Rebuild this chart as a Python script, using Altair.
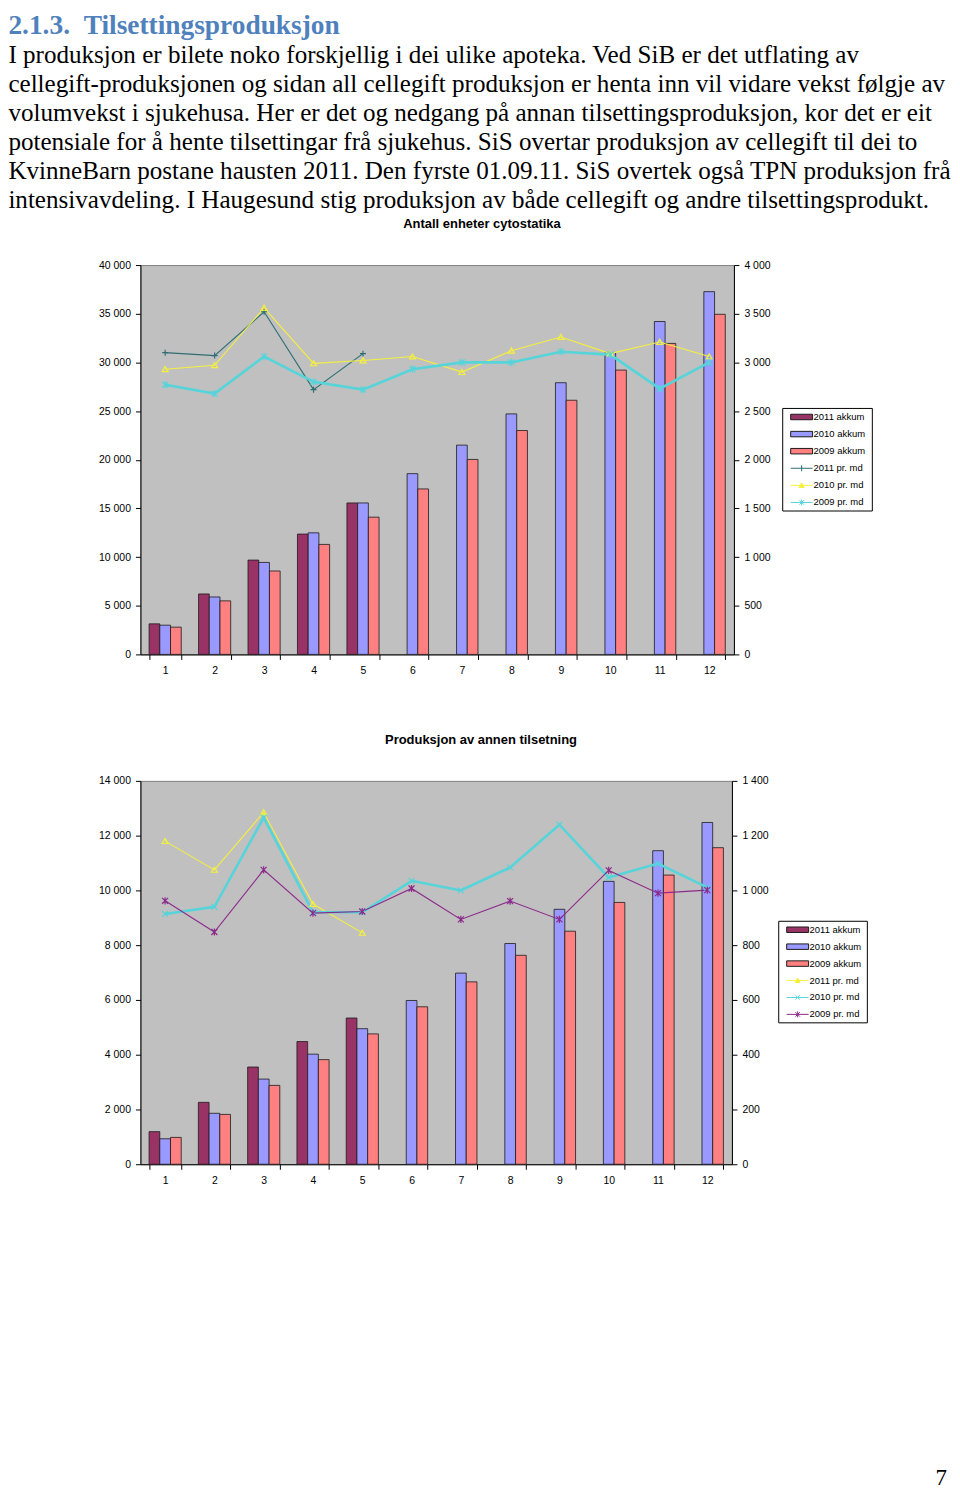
import altair as alt
import pandas as pd

# ---------------- text ----------------
heading = "2.1.3.\u00a0\u00a0Tilsettingsproduksjon"
paragraph = [
    "I produksjon er bilete noko forskjellig i dei ulike apoteka. Ved SiB er det utflating av",
    "cellegift-produksjonen og sidan all cellegift produksjon er henta inn vil vidare vekst følgje av",
    "volumvekst i sjukehusa. Her er det og nedgang på annan tilsettingsproduksjon, kor det er eit",
    "potensiale for å hente tilsettingar frå sjukehus. SiS overtar produksjon av cellegift til dei to",
    "KvinneBarn postane hausten 2011. Den fyrste 01.09.11. SiS overtek også TPN produksjon frå",
    "intensivavdeling. I Haugesund stig produksjon av både cellegift og andre tilsettingsprodukt.",
]
page_number = "7"

months = list(range(1, 13))
bar_series = ["2011 akkum", "2010 akkum", "2009 akkum"]
line_series = ["2011 pr. md", "2010 pr. md", "2009 pr. md"]

# ---------------- chart 1: Antall enheter cytostatika ----------------
c1_title = "Antall enheter cytostatika"
c1_akkum_2011 = [3140, 6210, 9690, 12360, 15560]
c1_akkum_2010 = [3000, 5900, 9450, 12490, 15560, 18570, 21500, 24710, 27910, 31020, 34200, 37270]
c1_akkum_2009 = [2800, 5500, 8570, 11300, 14100, 17000, 20030, 23000, 26110, 29210, 31950, 34940]
c1_md_2011 = [3100, 3070, 3520, 2720, 3090]
c1_md_2010 = [2930, 2970, 3560, 2990, 3020, 3060, 2900, 3120, 3260, 3090, 3210, 3060]
c1_md_2009 = [2770, 2680, 3060, 2800, 2720, 2930, 3000, 3000, 3110, 3080, 2730, 3000]
c1_left_ticks = [0, 5000, 10000, 15000, 20000, 25000, 30000, 35000, 40000]
c1_right_ticks = [0, 500, 1000, 1500, 2000, 2500, 3000, 3500, 4000]

# ---------------- chart 2: Produksjon av annen tilsetning ----------------
c2_title = "Produksjon av annen tilsetning"
c2_akkum_2011 = [1190, 2260, 3550, 4480, 5340]
c2_akkum_2010 = [930, 1860, 3110, 4020, 4950, 5980, 6980, 8060, 9310, 10330, 11450, 12480]
c2_akkum_2009 = [980, 1820, 2880, 3820, 4760, 5750, 6660, 7630, 8510, 9560, 10560, 11560]
c2_md_2011 = [1180, 1075, 1285, 950, 845]
c2_md_2010 = [914, 940, 1266, 920, 920, 1035, 1000, 1084, 1240, 1047, 1098, 1011]
c2_md_2009 = [962, 848, 1075, 917, 923, 1007, 894, 961, 894, 1073, 990, 1001]
c2_left_ticks = [0, 2000, 4000, 6000, 8000, 10000, 12000, 14000]
c2_right_ticks = [0, 200, 400, 600, 800, 1000, 1200, 1400]

# ---------------- styles ----------------
BAR_COLORS = ["#993366", "#9999FF", "#FF8080"]
SANS = "Liberation Sans"
SERIF = "Liberation Serif"

# legend symbol paths (drawn with point size 121 -> unit = 5.5 px)
L_RECT = "M-2,-0.5H2V0.5H-2Z"
L_PLUS = "M-2,0H2M0,-0.55V0.55"
L_TRI = "M-2,0H2M-0.45,0.38L0,-0.45L0.45,0.38Z"
L_STAR = "M-2,0H2M-0.4,-0.4L0.4,0.4M-0.4,0.4L0.4,-0.4M0,-0.55V0.55"
L_X = "M-2,0H2M-0.4,-0.4L0.4,0.4M-0.4,0.4L0.4,-0.4"

# line markers
M_PLUS = "M-1,0H1M0,-1V1"
M_TRI = "M-1,0.8L0,-0.9L1,0.8Z"
M_STAR = "M-1,-1L1,1M-1,1L1,-1M0,-1.2V1.2"
M_X = "M-1,-1L1,1M-1,1L1,-1"


def long_df(series_names, value_lists):
    rows = []
    for name, vals in zip(series_names, value_lists):
        for m, v in zip(months, vals):
            rows.append({"month": m, "series": name, "marker": name, "value": v})
    return pd.DataFrame(rows)


def build_chart(title, bars_vals, lines_vals, left_ticks, right_ticks,
                line_colors, thick_series, marker_paths, legend_paths,
                width, height, legend_box, title_dx, extra=None):
    all_series = bar_series + line_series
    all_colors = BAR_COLORS + line_colors
    bars_df = long_df(bar_series, bars_vals)
    lines_df = long_df(line_series, lines_vals)
    legend_df = pd.DataFrame({"series": all_series})

    color = alt.Color("series:N", scale=alt.Scale(domain=all_series, range=all_colors), legend=None)

    x_axis = alt.Axis(title=None, labelAngle=0, tickBand="extent", domainColor="black",
                      tickColor="black", tickSize=5, labelFont=SANS, labelFontSize=10.5,
                      labelColor="black", labelPadding=6, grid=False)
    lab = "replace(format(datum.value, ','), ',', ' ')"
    left_axis = alt.Axis(title=None, values=left_ticks, labelExpr=lab, domainColor="black",
                         tickColor="black", tickSize=5, labelFont=SANS, labelFontSize=10.5,
                         labelColor="black", labelPadding=5, grid=False)
    right_axis = alt.Axis(title=None, orient="right", values=right_ticks, labelExpr=lab,
                          domainColor="black", tickColor="black", tickSize=5, labelFont=SANS,
                          labelFontSize=10.5, labelColor="black", labelPadding=5, grid=False)

    x = alt.X("month:O", scale=alt.Scale(paddingInner=0.35, paddingOuter=0.175), axis=x_axis)

    bars = alt.Chart(bars_df).mark_bar(stroke="#1a1a1a", strokeWidth=0.8).encode(
        x=x,
        xOffset=alt.XOffset("series:N", scale=alt.Scale(domain=bar_series)),
        y=alt.Y("value:Q", scale=alt.Scale(domain=[left_ticks[0], left_ticks[-1]]), axis=left_axis),
        color=color,
    )
    y_right = alt.Y("value:Q", scale=alt.Scale(domain=[right_ticks[0], right_ticks[-1]]), axis=right_axis)
    lines = alt.Chart(lines_df).mark_line().encode(
        x=alt.X("month:O"),
        y=y_right,
        color=color,
        strokeWidth=alt.condition(f"datum.series == '{thick_series}'", alt.value(2.6), alt.value(1.1)),
    )
    points = alt.Chart(lines_df).mark_point(filled=False, size=36, strokeWidth=1.2, opacity=1).encode(
        x=alt.X("month:O"),
        y=alt.Y("value:Q"),
        color=color,
        shape=alt.Shape("marker:N", scale=alt.Scale(domain=line_series, range=marker_paths), legend=None),
    )

    # legend box drawn from the series list
    bx0, by0, bx1, by1 = legend_box
    step = (by1 - by0) / 6.0
    ly = alt.Y("series:N", scale=alt.Scale(type="point", domain=all_series, padding=0,
                                           range=[by0 + step / 2, by1 - step / 2]), axis=None)
    box = alt.Chart(pd.DataFrame({"k": [0]})).mark_rect(fill="white", stroke="black", strokeWidth=1).encode(
        x=alt.value(bx0), x2=alt.value(bx1), y=alt.value(by0), y2=alt.value(by1))
    sym = alt.Chart(legend_df).mark_point(filled=True, size=121, strokeWidth=1, opacity=1).encode(
        x=alt.value(bx0 + 19), y=ly, color=color,
        stroke=alt.Stroke("series:N", scale=alt.Scale(domain=all_series,
                                                      range=["#1a1a1a"] * 3 + line_colors), legend=None),
        shape=alt.Shape("series:N", scale=alt.Scale(domain=all_series, range=legend_paths), legend=None),
    )
    txt = alt.Chart(legend_df).mark_text(font=SANS, fontSize=9.5, align="left", baseline="middle",
                                         color="black").encode(
        x=alt.value(bx0 + 31), y=ly, text="series:N")
    legend = alt.layer(box, sym, txt)

    layers = [bars, alt.layer(lines, points), legend]
    if extra is not None:
        layers.append(extra)
    chart = alt.layer(*layers).resolve_scale(y="independent", shape="independent").properties(
        width=width, height=height,
        title=alt.TitleParams(title, font=SANS, fontSize=13, fontWeight="bold", color="black",
                              anchor="middle", dx=title_dx, offset=29),
    )
    return chart


chart1 = build_chart(
    c1_title,
    [c1_akkum_2011, c1_akkum_2010, c1_akkum_2009],
    [c1_md_2011, c1_md_2010, c1_md_2009],
    c1_left_ticks, c1_right_ticks,
    ["#2E6E73", "#F5F03C", "#55D4DA"], "2009 pr. md",
    [M_PLUS, M_TRI, M_STAR],
    [L_RECT, L_RECT, L_RECT, L_PLUS, L_TRI, L_STAR],
    596, 391, (645, 144, 735, 247), 45,
)

page_df = pd.DataFrame({"t": [page_number]})
page_text = alt.Chart(page_df).mark_text(font=SERIF, fontSize=23, align="right", baseline="alphabetic",
                                          color="black").encode(
    text="t:N", x=alt.value(810), y=alt.value(707))

chart2 = build_chart(
    c2_title,
    [c2_akkum_2011, c2_akkum_2010, c2_akkum_2009],
    [c2_md_2011, c2_md_2010, c2_md_2009],
    c2_left_ticks, c2_right_ticks,
    ["#F5F03C", "#55D4DA", "#8B2A8B"], "2010 pr. md",
    [M_TRI, M_X, M_STAR],
    [L_RECT, L_RECT, L_RECT, L_TRI, L_X, L_STAR],
    594, 385, (641, 141, 730, 243), 45, extra=page_text,
)

chart = alt.vconcat(chart1, chart2, spacing=57).resolve_scale(
    color="independent", shape="independent", stroke="independent"
).properties(
    padding={"top": 1, "left": 0, "right": 0, "bottom": -3},
    title=alt.TitleParams(
        heading, subtitle=paragraph, anchor="start", dx=-90, offset=4.5,
        font=SERIF, fontSize=27.5, fontWeight="bold", color="#4F81BD",
        subtitleFont=SERIF, subtitleFontSize=25.2, subtitleColor="black",
        subtitleLineHeight=29.2, subtitlePadding=3,
    ),
).configure_view(fill="#C0C0C0", stroke="#808080", strokeWidth=1)

chart.save("out.html", embed_options={"renderer": "svg", "actions": False})
